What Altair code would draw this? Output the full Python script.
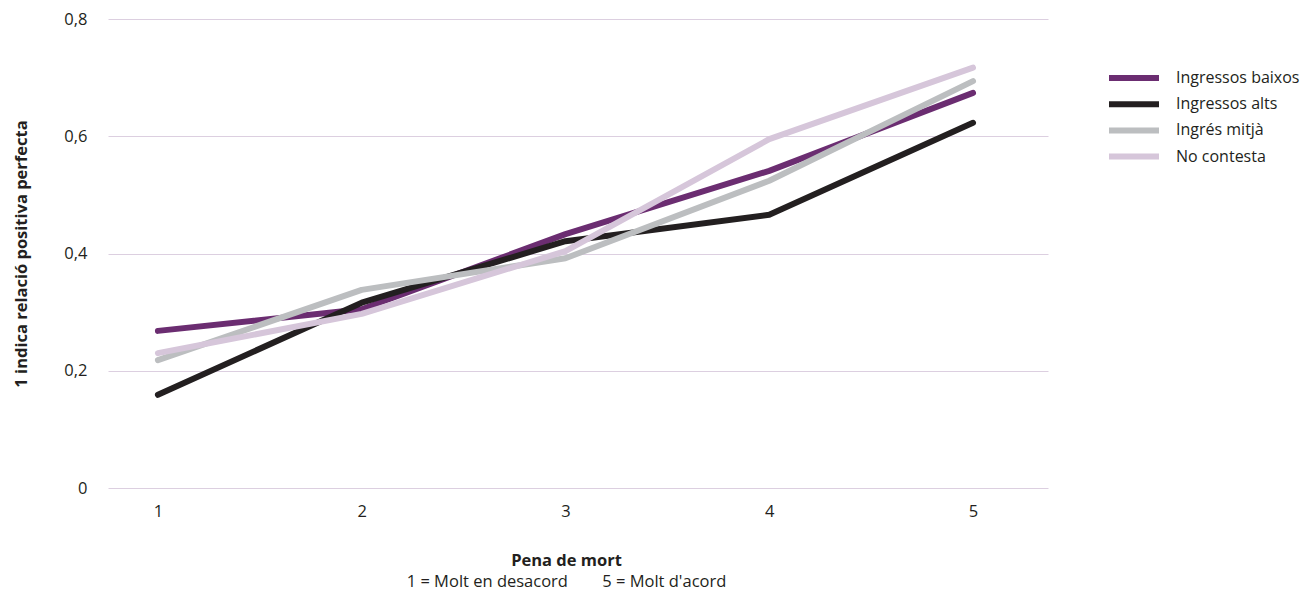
import altair as alt
import pandas as pd

categories = [1, 2, 3, 4, 5]
series_names = ["Ingressos baixos", "Ingressos alts", "Ingrés mitjà", "No contesta"]
baixos = [0.268, 0.305, 0.433, 0.541, 0.674]
alts = [0.159, 0.316, 0.421, 0.466, 0.623]
mitja = [0.218, 0.338, 0.392, 0.524, 0.694]
no_contesta = [0.230, 0.297, 0.404, 0.595, 0.717]
colors = ["#6b2d71", "#231f20", "#bcbec0", "#d6c6da"]
y_ticks = [0, 0.2, 0.4, 0.6, 0.8]

rows = []
for name, vals in zip(series_names, [baixos, alts, mitja, no_contesta]):
    for c, v in zip(categories, vals):
        rows.append({"serie": name, "x": c, "y": v})
df = pd.DataFrame(rows)

FONT = "Open Sans"
FS = 16.5
NB = "\u00a0"

chart = alt.Chart(df).mark_line(strokeWidth=6, strokeCap="round", strokeJoin="round").encode(
    x=alt.X("x:Q",
            scale=alt.Scale(domain=[0.755, 5.368], nice=False, zero=False),
            axis=alt.Axis(values=categories, format="d", grid=False, domain=False, ticks=False,
                          labelPadding=15, title=None, labelFontSize=FS, labelColor="#231f20",
                          labelFont=FONT)),
    y=alt.Y("y:Q",
            scale=alt.Scale(domain=[0, 0.8], nice=False),
            axis=alt.Axis(values=y_ticks, grid=True, gridColor="#dccfe0", gridWidth=1,
                          domain=False, ticks=False, labelPadding=21, labelFontSize=FS,
                          labelColor="#231f20", labelFont=FONT,
                          labelExpr="datum.value == 0 ? '0' : replace(format(datum.value, '.1f'), '.', ',')",
                          title="1 indica relació positiva perfecta", titleFont=FONT,
                          titleFontSize=FS, titleFontWeight="bold", titleColor="#231f20",
                          titlePadding=34)),
    color=alt.Color("serie:N", sort=series_names,
                    scale=alt.Scale(domain=series_names, range=colors),
                    legend=alt.Legend(title=None, orient="none", legendX=1018, legendY=51,
                                      symbolType="M-5,0H5", symbolStrokeWidth=6, symbolSize=100,
                                      labelFontSize=16, labelFont=FONT, labelColor="#231f20",
                                      labelOffset=34, rowPadding=2.2, symbolOpacity=1)),
    order=alt.Order("serie:N"),
).properties(
    width=940,
    height=469,
    title=alt.TitleParams(
        text="Pena de mort",
        subtitle="1 = Molt en desacord" + NB * 8 + "5 = Molt d'acord",
        orient="bottom", anchor="middle", frame="group", dx=-11.5, offset=33,
        font=FONT, fontSize=FS, fontWeight="bold", color="#231f20",
        subtitleFont=FONT, subtitleFontSize=FS, subtitleColor="#231f20", subtitlePadding=5,
    ),
    autosize=alt.AutoSizeParams(type="none"),
    padding={"left": 100, "top": 11, "right": 258, "bottom": 103},
).configure_view(stroke=None)

chart.save("out.html", embed_options={"renderer": "svg", "actions": False})
